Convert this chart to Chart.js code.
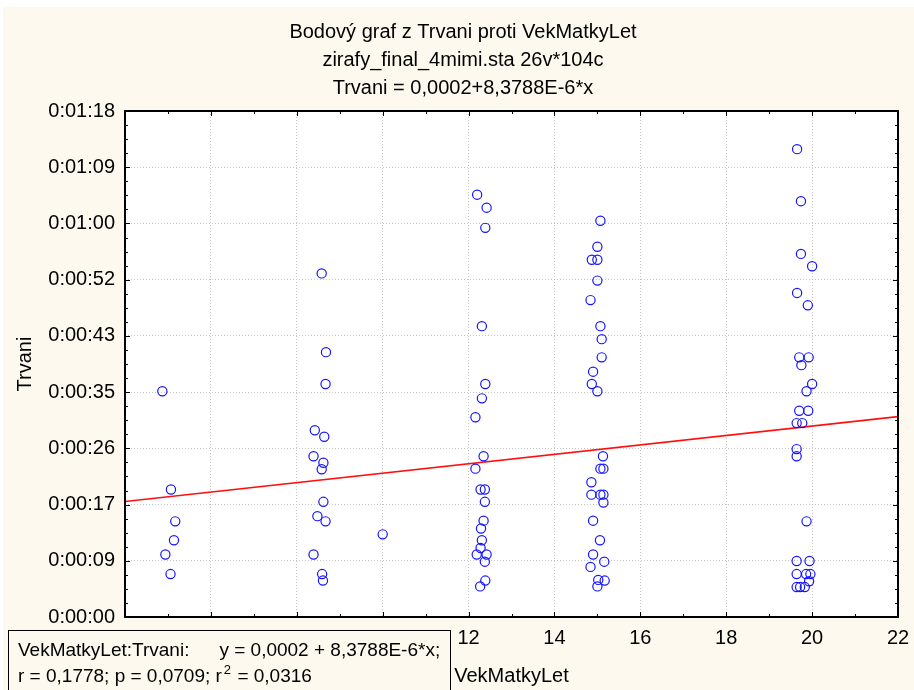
<!DOCTYPE html>
<html>
<head>
<meta charset="utf-8">
<script src="https://cdn.jsdelivr.net/npm/chart.js@4.4.1/dist/chart.umd.min.js"></script>
<style>
  html, body { margin: 0; padding: 0; background: #ffffff; }
  canvas { display: block; }
</style>
</head>
<body>
<canvas id="chart" width="914" height="690"></canvas>
<script>
// Mother's age (years) for each observed case
const vekMatkyLet = [
  4.87, 5.07, 5.17, 5.14, 4.94, 5.06,
  8.58, 8.68, 8.67, 8.42, 8.64, 8.39, 8.62, 8.58, 8.62, 8.48, 8.67, 8.39, 8.59, 8.61,
  10.00,
  12.20, 12.42, 12.39, 12.31, 12.39, 12.31, 12.16, 12.35, 12.16, 12.28, 12.38, 12.38, 12.35, 12.29, 12.31, 12.28, 12.19, 12.42, 12.38, 12.39, 12.27,
  15.07, 15.00, 14.87, 15.00, 15.00, 14.84, 15.07, 15.10, 15.10, 14.90, 14.87, 15.00, 15.13, 15.07, 15.14, 14.86, 14.86, 15.07, 15.14, 15.14, 14.90, 15.06, 14.90, 15.16, 14.84, 15.02, 15.17, 15.00,
  19.65, 19.74, 19.74, 20.00, 19.65, 19.90, 19.70, 19.92, 19.75, 20.00, 19.87, 19.70, 19.91, 19.64, 19.77, 19.64, 19.64, 19.87, 19.64, 19.94, 19.64, 19.86, 19.96, 19.93, 19.64, 19.72, 19.83
];

// Duration (seconds) for each observed case, same order
const trvaniSec = [
  34.7, 19.6, 14.7, 11.8, 9.6, 6.6,
  52.8, 40.7, 35.8, 28.7, 27.7, 24.7, 23.7, 22.7, 17.7, 15.5, 14.7, 9.6, 6.6, 5.6,
  12.7,
  64.9, 62.9, 59.8, 44.7, 35.8, 33.6, 30.7, 24.7, 22.8, 19.6, 19.6, 17.7, 14.8, 13.6, 11.8, 10.6, 9.6, 9.6, 8.5, 5.6, 4.7,
  60.9, 56.9, 54.9, 54.9, 51.7, 48.7, 44.7, 42.7, 39.9, 37.7, 35.8, 34.7, 24.7, 22.8, 22.8, 20.7, 18.8, 18.8, 18.8, 17.6, 14.8, 11.8, 9.6, 8.5, 7.7, 5.7, 5.6, 4.7,
  71.9, 63.9, 55.8, 53.9, 49.8, 47.9, 39.9, 39.9, 38.7, 35.8, 34.7, 31.7, 31.7, 29.8, 29.8, 25.8, 24.7, 14.7, 8.6, 8.6, 6.6, 6.6, 6.6, 5.5, 4.6, 4.6, 4.6
];

// Axis ticks
const xTickValues = [4, 6, 8, 10, 12, 14, 16, 18, 20, 22];
const yTickSeconds = [0, 8.64, 17.28, 25.92, 34.56, 43.2, 51.84, 60.48, 69.12, 77.76];

// Linear fit Trvani = a + b*x (time in days)
const fitIntercept = 0.000172;
const fitSlope = 8.3788e-6;
const fitR = 0.1778;
const fitP = 0.0709;
const fitR2 = 0.0316;

const SEC_PER_DAY = 86400;
const FONT = '"Liberation Sans", Arial, sans-serif';
const PAGE = '#fdf9ee';

const czNum = (s) => s.replace('.', ',');
const fmtFixed = (v) => czNum(v.toFixed(4));
const fmtExp = (v) => czNum(v.toExponential(4)).replace('e', 'E').replace('E+', 'E');

function fmtTime(sec) {
  const t = Math.round(sec);
  const h = Math.floor(t / 3600);
  const m = Math.floor((t % 3600) / 60);
  const s = t % 60;
  return h + ':' + String(m).padStart(2, '0') + ':' + String(s).padStart(2, '0');
}

const points = vekMatkyLet.map((x, i) => ({ x, y: trvaniSec[i] }));
const xMin = xTickValues[0];
const xMax = xTickValues[xTickValues.length - 1];
const yMin = yTickSeconds[0];
const yMax = yTickSeconds[yTickSeconds.length - 1];
const fitLine = [xMin, xMax].map(x => ({ x, y: (fitIntercept + fitSlope * x) * SEC_PER_DAY }));

const interceptTxt = fmtFixed(fitIntercept);
const slopeTxt = fmtExp(fitSlope);

// Cream page, white plotting field
const backdrop = {
  id: 'backdrop',
  beforeDraw(chart) {
    const { ctx, chartArea: a } = chart;
    ctx.save();
    ctx.fillStyle = '#ffffff';
    ctx.fillRect(0, 0, chart.width, chart.height);
    ctx.fillStyle = PAGE;
    ctx.fillRect(3, 7, chart.width - 3, chart.height - 7);
    ctx.fillStyle = '#ffffff';
    ctx.fillRect(a.left, a.top, a.width, a.height);
    ctx.restore();
  }
};

// Black frame with inward major/minor ticks on all four sides
const frameTicks = {
  id: 'frameTicks',
  afterDatasetsDraw(chart) {
    const { ctx, chartArea: a, scales: { x, y } } = chart;
    ctx.save();
    ctx.strokeStyle = '#000000';
    ctx.lineWidth = 1;
    ctx.beginPath();
    for (let v = xMin; v <= xMax; v += 1) {
      const px = Math.round(x.getPixelForValue(v)) + 0.5;
      const len = (v % 2 === 0) ? 5 : 3;
      ctx.moveTo(px, a.top); ctx.lineTo(px, a.top + len);
      ctx.moveTo(px, a.bottom); ctx.lineTo(px, a.bottom - len);
    }
    const minorStep = yTickSeconds[1] / 4;
    for (let i = 0; i * minorStep <= yMax + 1e-9; i++) {
      const py = Math.round(y.getPixelForValue(i * minorStep)) + 0.5;
      const len = (i % 4 === 0) ? 5 : 3;
      ctx.moveTo(a.left, py); ctx.lineTo(a.left + len, py);
      ctx.moveTo(a.right, py); ctx.lineTo(a.right - len, py);
    }
    ctx.stroke();
    ctx.lineWidth = 2;
    ctx.strokeRect(a.left, a.top, a.width, a.height);
    ctx.restore();
  }
};

// Regression summary box in the lower left corner
const fitBox = {
  id: 'fitBox',
  afterDraw(chart) {
    const { ctx } = chart;
    ctx.save();
    ctx.fillStyle = PAGE;
    ctx.fillRect(8, 630, 442, 70);
    ctx.strokeStyle = '#000000';
    ctx.lineWidth = 1;
    ctx.strokeRect(8.5, 630.5, 442, 70);
    ctx.fillStyle = '#000000';
    ctx.textBaseline = 'middle';
    ctx.textAlign = 'left';
    const big = '19px ' + FONT;
    ctx.font = big;
    const head = 'VekMatkyLet:Trvani:';
    ctx.fillText(head, 18, 651);
    ctx.fillText('y = ' + interceptTxt + ' + ' + slopeTxt + '*x;', 18 + ctx.measureText(head).width + 30, 651);
    let tx = 18;
    const part1 = 'r = ' + fmtFixed(fitR) + '; p = ' + fmtFixed(fitP) + '; r';
    ctx.fillText(part1, tx, 677);
    tx += ctx.measureText(part1).width + 2;
    ctx.font = '13px ' + FONT;
    ctx.fillText('2', tx, 670);
    tx += ctx.measureText('2').width + 1;
    ctx.font = big;
    ctx.fillText(' = ' + fmtFixed(fitR2), tx, 677);
    ctx.restore();
  }
};

const gridStyle = {
  color: '#c4c4c4',
  lineWidth: 1,
  drawTicks: false
};

new Chart(document.getElementById('chart'), {
  type: 'scatter',
  data: {
    datasets: [
      {
        label: 'Trvani',
        data: points,
        pointStyle: 'circle',
        pointRadius: 4.6,
        pointBorderWidth: 1.2,
        borderColor: '#1414ff',
        backgroundColor: 'rgba(0,0,0,0)',
        pointHoverRadius: 4.6
      },
      {
        type: 'line',
        label: 'fit',
        data: fitLine,
        borderColor: '#ff1010',
        borderWidth: 1.6,
        pointRadius: 0,
        fill: false
      }
    ]
  },
  options: {
    responsive: false,
    devicePixelRatio: 1,
    animation: false,
    layout: { padding: { left: 12, right: 0, top: 0, bottom: 0 } },
    plugins: {
      legend: { display: false },
      tooltip: { enabled: false },
      title: {
        display: true,
        text: [
          'Bodový graf z Trvani proti VekMatkyLet',
          'zirafy_final_4mimi.sta 26v*104c',
          'Trvani = ' + interceptTxt + '+' + slopeTxt + '*x'
        ],
        color: '#000000',
        font: { family: FONT, size: 20, weight: 'normal', lineHeight: 1.4 },
        padding: { top: 18, bottom: 9 }
      }
    },
    scales: {
      x: {
        type: 'linear',
        min: xMin,
        max: xMax,
        afterBuildTicks: (s) => { s.ticks = xTickValues.map(v => ({ value: v })); },
        afterFit: (s) => { s.height = 73; s.paddingLeft = 0; s.paddingRight = 0; },
        grid: gridStyle,
        border: { display: false, dash: [1, 2] },
        ticks: {
          color: '#000000',
          padding: 9,
          maxRotation: 0,
          font: { family: FONT, size: 20 }
        },
        title: {
          display: true,
          text: 'VekMatkyLet',
          color: '#000000',
          font: { family: FONT, size: 20 },
          padding: { top: 0, bottom: 2 }
        }
      },
      y: {
        type: 'linear',
        min: yMin,
        max: yMax,
        afterBuildTicks: (s) => { s.ticks = yTickSeconds.map(v => ({ value: v })); },
        afterFit: (s) => { s.width = 113; },
        grid: gridStyle,
        border: { display: false, dash: [1, 2] },
        ticks: {
          color: '#000000',
          padding: 10,
          font: { family: FONT, size: 20 },
          callback: (v) => fmtTime(v)
        },
        title: {
          display: true,
          text: 'Trvani',
          color: '#000000',
          font: { family: FONT, size: 20 },
          padding: { top: 1, bottom: 0 }
        }
      },
      yRight: {
        type: 'linear',
        position: 'right',
        min: yMin,
        max: yMax,
        afterFit: (s) => { s.width = 16; },
        grid: { display: false, drawTicks: false },
        border: { display: false },
        ticks: { display: false }
      }
    }
  },
  plugins: [backdrop, frameTicks, fitBox]
});
</script>
</body>
</html>
